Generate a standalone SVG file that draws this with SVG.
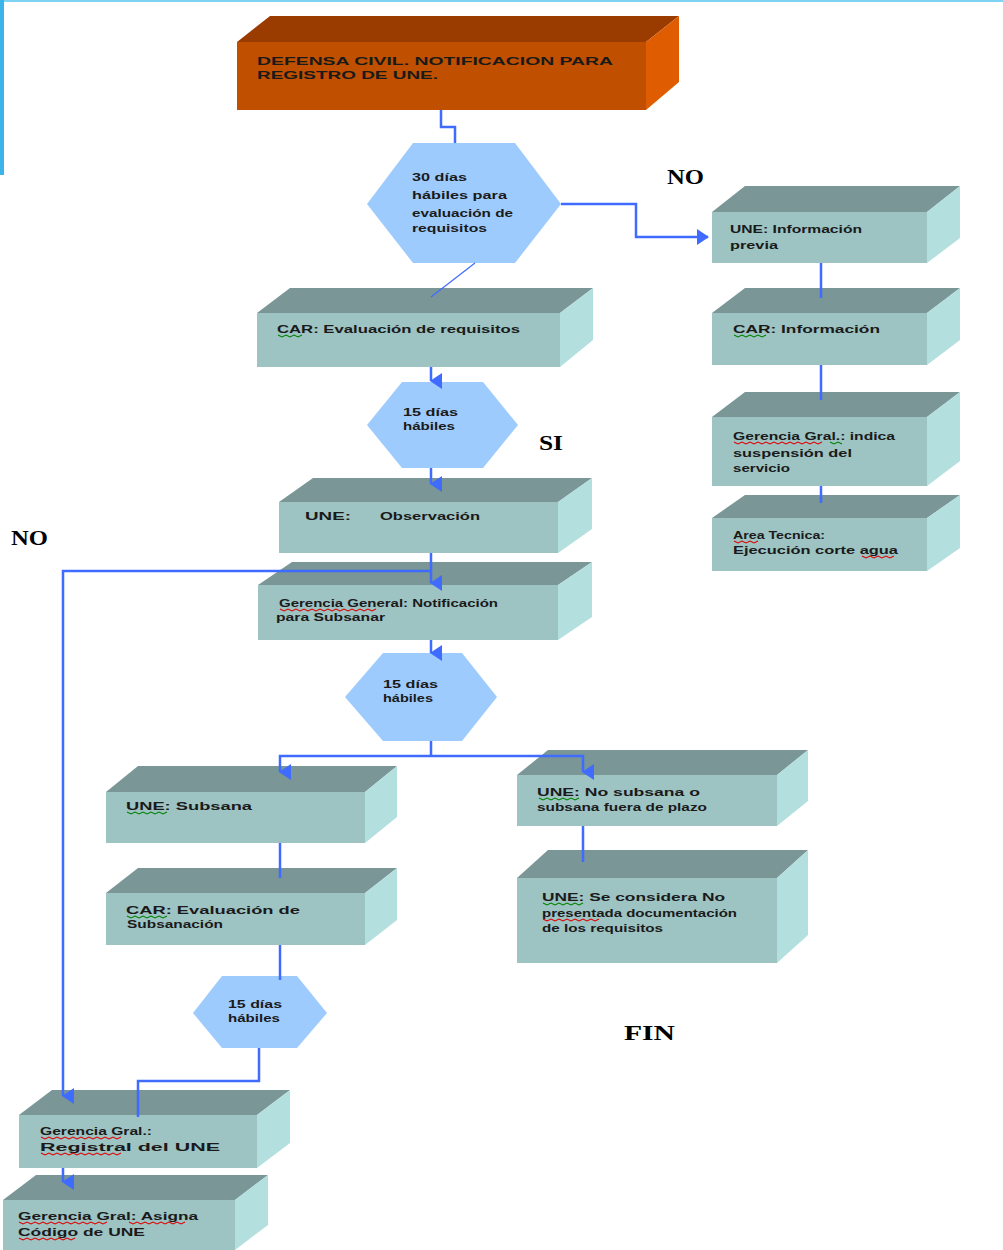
<svg xmlns="http://www.w3.org/2000/svg" width="1003" height="1250" viewBox="0 0 1003 1250">
<defs>
<style>
.front{fill:#9DC3C3}
.top{fill:#7A9696}
.side{fill:#B4DFDF}
.ofront{fill:#C04F00}
.otop{fill:#9A3C00}
.oside{fill:#E05C00}
.hex{fill:#9ECBFD}
.t{font-family:"Liberation Sans",Arial,sans-serif;font-size:11px;font-weight:bold;fill:#1a1a1a}
.lab{font-family:"Liberation Serif","Times New Roman",serif;font-size:22px;font-weight:bold;fill:#000}
.c{fill:none;stroke:#3F6BFF;stroke-width:2.5}
.red{fill:none;stroke:#E00000;stroke-width:1.1}
.grn{fill:none;stroke:#008000;stroke-width:1.1}
</style>
<marker id="ah" markerUnits="userSpaceOnUse" markerWidth="16" markerHeight="12" refX="8" refY="11" orient="auto-start-reverse" viewBox="0 0 16 12">
<path d="M0,0 L16,0 L8,12 Z" fill="#3F6BFF"/>
</marker>
<marker id="ar" markerUnits="userSpaceOnUse" markerWidth="12" markerHeight="16" refX="11" refY="8" viewBox="0 0 12 16">
<path d="M0,0 L12,8 L0,16 Z" fill="#3F6BFF"/>
</marker>
</defs>
<rect x="0" y="0" width="1003" height="1250" fill="#fff"/>
<rect x="0" y="0" width="1003" height="2" fill="#7FD3F5"/>
<rect x="0" y="0" width="4" height="175" fill="#3CB4EA"/>

<g id="n-inicio">
<polygon class="otop" points="237,42 270,16 679,16 646,42"/>
<polygon class="oside" points="646,42 679,16 679,82 646,110"/>
<rect class="ofront" x="237" y="42" width="409" height="68"/>
<text class="t" x="257" y="65" textLength="356" lengthAdjust="spacingAndGlyphs">DEFENSA CIVIL. NOTIFICACION PARA</text>
<text class="t" x="257" y="79" textLength="181" lengthAdjust="spacingAndGlyphs">REGISTRO DE UNE.</text>
</g>

<g id="n-hex1">
<polygon class="hex" points="367,204 413,143 515,143 561,204 515,263 413,263"/>
<text class="t" x="412" y="181" textLength="55" lengthAdjust="spacingAndGlyphs">30 días</text>
<text class="t" x="412" y="199" textLength="95" lengthAdjust="spacingAndGlyphs">hábiles para</text>
<text class="t" x="412" y="217" textLength="101" lengthAdjust="spacingAndGlyphs">evaluación de</text>
<text class="t" x="412" y="232" textLength="75" lengthAdjust="spacingAndGlyphs">requisitos</text>
</g>

<g id="n-car-req">
<polygon class="top" points="257,313 290,288 593,288 560,313"/>
<polygon class="side" points="560,313 593,288 593,340 560,367"/>
<rect class="front" x="257" y="313" width="303" height="54"/>
<text class="t" x="277" y="333" textLength="243" lengthAdjust="spacingAndGlyphs">CAR: Evaluación de requisitos</text>
<path class="grn" d="M278,335 l4,2 l4,-2 l4,2 l4,-2 l4,2 l4,-2"/>
</g>

<g id="n-hex2">
<polygon class="hex" points="367,425 402,382 483,382 518,425 483,468 402,468"/>
<text class="t" x="403" y="416" textLength="55" lengthAdjust="spacingAndGlyphs">15 días</text>
<text class="t" x="403" y="430" textLength="52" lengthAdjust="spacingAndGlyphs">hábiles</text>
</g>

<g id="n-une-obs">
<polygon class="top" points="279,502 313,478 592,478 558,502"/>
<polygon class="side" points="558,502 592,478 592,529 558,553"/>
<rect class="front" x="279" y="502" width="279" height="51"/>
<text class="t" x="305" y="520" textLength="46" lengthAdjust="spacingAndGlyphs">UNE:</text>
<text class="t" x="380" y="520" textLength="100" lengthAdjust="spacingAndGlyphs">Observación</text>
</g>

<g id="n-notif">
<polygon class="top" points="258,585 292,562 592,562 558,585"/>
<polygon class="side" points="558,585 592,562 592,617 558,640"/>
<rect class="front" x="258" y="585" width="300" height="55"/>
<text class="t" x="279" y="607" textLength="219" lengthAdjust="spacingAndGlyphs">Gerencia General: Notificación</text>
<text class="t" x="276" y="621" textLength="109" lengthAdjust="spacingAndGlyphs">para Subsanar</text>
<path class="red" d="M280,609 l4,2 l4,-2 l4,2 l4,-2 l4,2 l4,-2 l4,2 l4,-2 l4,2 l4,-2 l4,2 l4,-2 l4,2 l4,-2 l4,2 l4,-2 l4,2 l4,-2 l4,2 l4,-2 l4,2 l4,-2 l4,2 l4,-2"/>
</g>

<g id="n-hex3">
<polygon class="hex" points="345,697 383,653 462,653 497,697 462,741 383,741"/>
<text class="t" x="383" y="688" textLength="55" lengthAdjust="spacingAndGlyphs">15 días</text>
<text class="t" x="383" y="702" textLength="50" lengthAdjust="spacingAndGlyphs">hábiles</text>
</g>

<g id="n-subsana">
<polygon class="top" points="106,792 138,766 397,766 365,792"/>
<polygon class="side" points="365,792 397,766 397,817 365,843"/>
<rect class="front" x="106" y="792" width="259" height="51"/>
<text class="t" x="126" y="810" textLength="126" lengthAdjust="spacingAndGlyphs">UNE: Subsana</text>
<path class="grn" d="M127,812 l4,2 l4,-2 l4,2 l4,-2 l4,2 l4,-2 l4,2 l4,-2 l4,2 l4,-2"/>
</g>

<g id="n-car-subs">
<polygon class="top" points="106,893 138,868 397,868 365,893"/>
<polygon class="side" points="365,893 397,868 397,920 365,945"/>
<rect class="front" x="106" y="893" width="259" height="52"/>
<text class="t" x="126" y="914" textLength="174" lengthAdjust="spacingAndGlyphs">CAR: Evaluación de</text>
<text class="t" x="127" y="928" textLength="96" lengthAdjust="spacingAndGlyphs">Subsanación</text>
<path class="grn" d="M127,916 l4,2 l4,-2 l4,2 l4,-2 l4,2 l4,-2 l4,2 l4,-2 l4,2 l4,-2"/>
</g>

<g id="n-hex4">
<polygon class="hex" points="193,1013 222,976 297,976 327,1013 297,1048 222,1048"/>
<text class="t" x="228" y="1008" textLength="54" lengthAdjust="spacingAndGlyphs">15 días</text>
<text class="t" x="228" y="1022" textLength="52" lengthAdjust="spacingAndGlyphs">hábiles</text>
</g>

<g id="n-registro">
<polygon class="top" points="19,1115 52,1090 290,1090 257,1115"/>
<polygon class="side" points="257,1115 290,1090 290,1143 257,1168"/>
<rect class="front" x="19" y="1115" width="238" height="53"/>
<text class="t" x="40" y="1135" textLength="112" lengthAdjust="spacingAndGlyphs">Gerencia Gral.:</text>
<text class="t" x="40" y="1151" textLength="180" lengthAdjust="spacingAndGlyphs">Registral  del UNE</text>
<path class="red" d="M41,1137 l4,2 l4,-2 l4,2 l4,-2 l4,2 l4,-2 l4,2 l4,-2 l4,2 l4,-2 l4,2 l4,-2 l4,2 l4,-2 l4,2 l4,-2 l4,2 l4,-2 l4,2 l4,-2"/>
<path class="red" d="M41,1153 l4,2 l4,-2 l4,2 l4,-2 l4,2 l4,-2 l4,2 l4,-2 l4,2 l4,-2 l4,2 l4,-2 l4,2 l4,-2 l4,2 l4,-2 l4,2 l4,-2 l4,2 l4,-2"/>
</g>

<g id="n-codigo">
<polygon class="top" points="3,1200 36,1175 268,1175 235,1200"/>
<polygon class="side" points="235,1200 268,1175 268,1225 235,1250"/>
<rect class="front" x="3" y="1200" width="232" height="50"/>
<text class="t" x="18" y="1220" textLength="180" lengthAdjust="spacingAndGlyphs">Gerencia Gral: Asigna</text>
<text class="t" x="18" y="1236" textLength="127" lengthAdjust="spacingAndGlyphs">Código de UNE</text>
<path class="red" d="M19,1222 l4,2 l4,-2 l4,2 l4,-2 l4,2 l4,-2 l4,2 l4,-2 l4,2 l4,-2 l4,2 l4,-2 l4,2 l4,-2 l4,2 l4,-2 l4,2 l4,-2 l4,2 l4,-2 l4,2 l4,-2"/>
<path class="red" d="M129,1222 l4,2 l4,-2 l4,2 l4,-2 l4,2 l4,-2 l4,2 l4,-2 l4,2 l4,-2 l4,2 l4,-2 l4,2 l4,-2"/>
<path class="red" d="M19,1238 l4,2 l4,-2 l4,2 l4,-2 l4,2 l4,-2 l4,2 l4,-2 l4,2 l4,-2 l4,2 l4,-2 l4,2 l4,-2"/>
</g>

<g id="n-no-subsana">
<polygon class="top" points="517,775 548,750 808,750 777,775"/>
<polygon class="side" points="777,775 808,750 808,801 777,826"/>
<rect class="front" x="517" y="775" width="260" height="51"/>
<text class="t" x="537" y="796" textLength="163" lengthAdjust="spacingAndGlyphs">UNE: No subsana o</text>
<text class="t" x="537" y="811" textLength="170" lengthAdjust="spacingAndGlyphs">subsana fuera de plazo</text>
<path class="grn" d="M539,798 l4,2 l4,-2 l4,2 l4,-2 l4,2 l4,-2 l4,2 l4,-2 l4,2 l4,-2"/>
</g>

<g id="n-no-presentada">
<polygon class="top" points="517,878 548,850 808,850 777,878"/>
<polygon class="side" points="777,878 808,850 808,935 777,963"/>
<rect class="front" x="517" y="878" width="260" height="85"/>
<text class="t" x="542" y="901" textLength="183" lengthAdjust="spacingAndGlyphs">UNE: Se considera No</text>
<text class="t" x="542" y="917" textLength="195" lengthAdjust="spacingAndGlyphs">presentada documentación</text>
<text class="t" x="542" y="932" textLength="121" lengthAdjust="spacingAndGlyphs">de los requisitos</text>
<path class="grn" d="M543,903 l4,2 l4,-2 l4,2 l4,-2 l4,2 l4,-2 l4,2 l4,-2 l4,2 l4,-2"/>
<path class="red" d="M543,919 l4,2 l4,-2 l4,2 l4,-2 l4,2 l4,-2 l4,2 l4,-2 l4,2 l4,-2 l4,2 l4,-2 l4,2 l4,-2"/>
</g>

<g id="n-info-previa">
<polygon class="top" points="712,212 745,186 960,186 927,212"/>
<polygon class="side" points="927,212 960,186 960,238 927,263"/>
<rect class="front" x="712" y="212" width="215" height="51"/>
<text class="t" x="730" y="233" textLength="132" lengthAdjust="spacingAndGlyphs">UNE: Información</text>
<text class="t" x="730" y="249" textLength="48" lengthAdjust="spacingAndGlyphs">previa</text>
</g>

<g id="n-car-info">
<polygon class="top" points="712,313 745,288 960,288 927,313"/>
<polygon class="side" points="927,313 960,288 960,340 927,365"/>
<rect class="front" x="712" y="313" width="215" height="52"/>
<text class="t" x="733" y="333" textLength="147" lengthAdjust="spacingAndGlyphs">CAR: Información</text>
<path class="grn" d="M734,335 l4,2 l4,-2 l4,2 l4,-2 l4,2 l4,-2 l4,2 l4,-2"/>
</g>

<g id="n-suspension">
<polygon class="top" points="712,417 745,392 960,392 927,417"/>
<polygon class="side" points="927,417 960,392 960,461 927,486"/>
<rect class="front" x="712" y="417" width="215" height="69"/>
<text class="t" x="733" y="440" textLength="162" lengthAdjust="spacingAndGlyphs">Gerencia Gral.: indica</text>
<text class="t" x="733" y="457" textLength="119" lengthAdjust="spacingAndGlyphs">suspensión del</text>
<text class="t" x="733" y="472" textLength="57" lengthAdjust="spacingAndGlyphs">servicio</text>
<path class="red" d="M734,442 l4,2 l4,-2 l4,2 l4,-2 l4,2 l4,-2 l4,2 l4,-2 l4,2 l4,-2 l4,2 l4,-2 l4,2 l4,-2 l4,2 l4,-2 l4,2 l4,-2 l4,2 l4,-2 l4,2 l4,-2"/>
<path class="grn" d="M830,442 l4,2 l4,-2 l4,2"/>
</g>

<g id="n-corte">
<polygon class="top" points="712,518 745,495 960,495 927,518"/>
<polygon class="side" points="927,518 960,495 960,548 927,571"/>
<rect class="front" x="712" y="518" width="215" height="53"/>
<text class="t" x="733" y="539" textLength="92" lengthAdjust="spacingAndGlyphs">Area Tecnica:</text>
<text class="t" x="733" y="554" textLength="165" lengthAdjust="spacingAndGlyphs">Ejecución  corte agua</text>
<path class="red" d="M734,541 l4,2 l4,-2 l4,2 l4,-2 l4,2 l4,-2"/>
<path class="red" d="M862,556 l4,2 l4,-2 l4,2 l4,-2 l4,2 l4,-2 l4,2 l4,-2"/>
</g>

<g id="connectors">
<polyline class="c" points="441,110 441,127 455,127 455,143"/>
<polyline class="c" points="561,204 636,204 636,237 708,237" marker-end="url(#ar)"/>
<line x1="475" y1="263" x2="431" y2="297" stroke="#3F6BFF" stroke-width="1.2"/>
<line class="c" x1="431" y1="367" x2="431" y2="381" marker-end="url(#ah)"/>
<line class="c" x1="431" y1="468" x2="431" y2="484" marker-end="url(#ah)"/>
<line class="c" x1="431" y1="553" x2="431" y2="583" marker-end="url(#ah)"/>
<polyline class="c" points="431,571 63,571 63,1096" marker-end="url(#ah)"/>
<line class="c" x1="431" y1="640" x2="431" y2="653" marker-end="url(#ah)"/>
<polyline class="c" points="431,741 431,756"/>
<polyline class="c" points="280,772 280,756 583,756 583,772" marker-start="url(#ah)" marker-end="url(#ah)"/>
<line class="c" x1="280" y1="843" x2="280" y2="878"/>
<line class="c" x1="280" y1="945" x2="280" y2="980"/>
<polyline class="c" points="259,1048 259,1081 138,1081 138,1117"/>
<line class="c" x1="63" y1="1168" x2="63" y2="1182" marker-end="url(#ah)"/>
<line class="c" x1="821" y1="263" x2="821" y2="298"/>
<line class="c" x1="821" y1="365" x2="821" y2="400"/>
<line class="c" x1="821" y1="486" x2="821" y2="503"/>
<line class="c" x1="583" y1="826" x2="583" y2="862"/>
</g>

<g id="labels">
<text class="lab" x="667" y="184" textLength="37" lengthAdjust="spacingAndGlyphs">NO</text>
<text class="lab" x="539" y="450" textLength="24" lengthAdjust="spacingAndGlyphs">SI</text>
<text class="lab" x="11" y="545" textLength="37" lengthAdjust="spacingAndGlyphs">NO</text>
<text class="lab" x="624" y="1040" textLength="51" lengthAdjust="spacingAndGlyphs">FIN</text>
</g>
</svg>
